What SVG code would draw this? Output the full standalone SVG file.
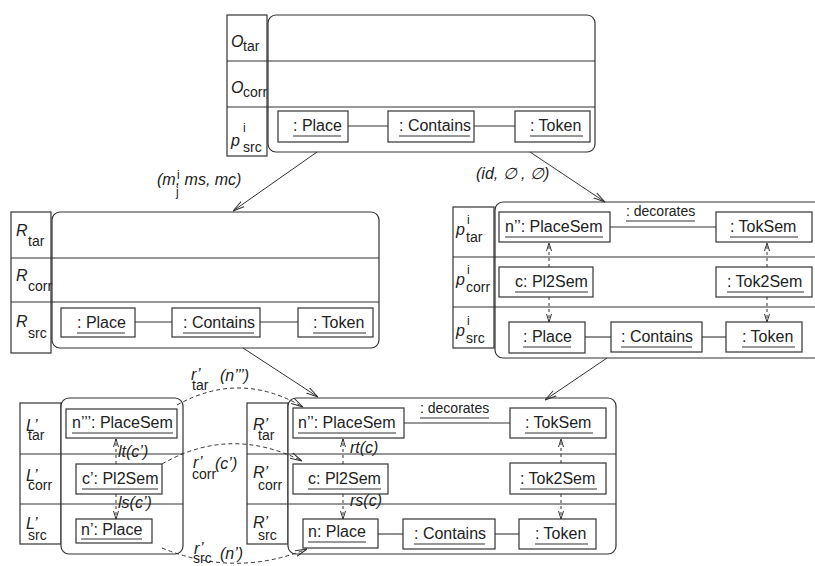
<svg xmlns="http://www.w3.org/2000/svg" width="815" height="566" viewBox="0 0 815 566">
<style>
text{font-family:"Liberation Sans",Arial,sans-serif;fill:#222}
.t{font-size:16px}
.s{font-size:14px}
.xs{font-size:12px}
.i{font-style:italic}
.fr{fill:#fff;stroke:#333;stroke-width:1.2}
.bx{fill:#fff;stroke:#333;stroke-width:1.2}
.ln{stroke:#333;stroke-width:1.1;fill:none}
.ul{stroke:#333;stroke-width:1.1}
.ar{stroke:#333;stroke-width:1;fill:none;marker-end:url(#ah)}
.da{stroke:#333;stroke-width:1;fill:none;stroke-dasharray:4 3;marker-end:url(#ah)}
.dv{stroke:#333;stroke-width:1;fill:none;stroke-dasharray:3 3;marker-end:url(#sh)}
</style>
<defs>
<marker id="ah" viewBox="0 0 12 8" refX="12" refY="4" markerWidth="12" markerHeight="8" markerUnits="userSpaceOnUse" orient="auto"><path d="M0,1 L12,4 L0,7" fill="none" stroke="#333" stroke-width="1"/></marker>
<marker id="sh" viewBox="0 0 8 6" refX="8" refY="3" markerWidth="8" markerHeight="6" markerUnits="userSpaceOnUse" orient="auto"><path d="M0,0.5 L8,3 L0,5.5" fill="none" stroke="#333" stroke-width="1"/></marker>
</defs>
<rect width="815" height="566" fill="#fff"/>

<!-- Top graph O -->
<g id="graphO">
<rect class="fr" x="227" y="15" width="40" height="141"/>
<rect class="fr" x="268" y="15" width="327" height="137" rx="8"/>
<line class="ln" x1="227" y1="61" x2="595" y2="61"/>
<line class="ln" x1="227" y1="107" x2="595" y2="107"/>
<text class="t i" x="231" y="47">O</text><text class="s" x="243" y="51">tar</text>
<text class="t i" x="231" y="93">O</text><text class="s" x="243" y="97">corr</text>
<text class="t i" x="231" y="146">p</text><text class="xs" x="243" y="132">i</text><text class="s" x="243" y="152">src</text>
<g id="O_place"><rect class="bx" x="278" y="111" width="70" height="31"/><text class="t" x="293" y="131">: Place</text><line class="ul" x1="293" y1="136" x2="341" y2="136"/></g>
<g id="O_contains"><rect class="bx" x="388" y="111" width="86" height="31"/><text class="t" x="399" y="131">: Contains</text><line class="ul" x1="399" y1="136" x2="470" y2="136"/></g>
<g id="O_token"><rect class="bx" x="515" y="111" width="75" height="31"/><text class="t" x="530" y="131">: Token</text><line class="ul" x1="530" y1="136" x2="583" y2="136"/></g>
</g>

<!-- Middle-left graph R -->
<g id="graphR">
<rect class="fr" x="11" y="212" width="40" height="141"/>
<rect class="fr" x="52" y="212" width="327" height="136" rx="8"/>
<line class="ln" x1="11" y1="258" x2="379" y2="258"/>
<line class="ln" x1="11" y1="302" x2="379" y2="302"/>
<text class="t i" x="16" y="236">R</text><text class="s" x="28" y="246">tar</text>
<text class="t i" x="16" y="281">R</text><text class="s" x="28" y="291">corr</text>
<text class="t i" x="16" y="327">R</text><text class="s" x="28" y="338">src</text>
<g id="R_place"><rect class="bx" x="61" y="308" width="74" height="29"/><text class="t" x="77" y="328">: Place</text><line class="ul" x1="77" y1="333" x2="125" y2="333"/></g>
<g id="R_contains"><rect class="bx" x="172" y="308" width="88" height="29"/><text class="t" x="183" y="328">: Contains</text><line class="ul" x1="183" y1="333" x2="254" y2="333"/></g>
<g id="R_token"><rect class="bx" x="298" y="308" width="75" height="29"/><text class="t" x="313" y="328">: Token</text><line class="ul" x1="313" y1="333" x2="366" y2="333"/></g>
</g>

<!-- Middle-right graph p^i -->
<g id="graphP">
<rect class="fr" x="453" y="207" width="41" height="141"/>
<rect class="fr" x="495" y="202" width="340" height="156" rx="8"/>
<line class="ln" x1="453" y1="257" x2="815" y2="257"/>
<line class="ln" x1="453" y1="307" x2="815" y2="307"/>
<text class="t i" x="456" y="235">p</text><text class="xs" x="467" y="224">i</text><text class="s" x="466" y="242">tar</text>
<text class="t i" x="456" y="285">p</text><text class="xs" x="467" y="274">i</text><text class="s" x="466" y="292">corr</text>
<text class="t i" x="456" y="336">p</text><text class="xs" x="467" y="325">i</text><text class="s" x="466" y="343">src</text>
<g id="P_placesem"><rect class="bx" x="499" y="212" width="111" height="30"/><text class="t" x="505" y="232">n’’: PlaceSem</text><line class="ul" x1="505" y1="237" x2="603" y2="237"/></g>
<g id="P_toksem"><rect class="bx" x="716" y="212" width="96" height="30"/><text class="t" x="730" y="232">: TokSem</text><line class="ul" x1="730" y1="237" x2="798" y2="237"/></g>
<g id="P_pl2sem"><rect class="bx" x="499" y="267" width="94" height="30"/><text class="t" x="515" y="287">c: Pl2Sem</text><line class="ul" x1="515" y1="292" x2="588" y2="292"/></g>
<g id="P_tok2sem"><rect class="bx" x="716" y="267" width="96" height="30"/><text class="t" x="727" y="287">: Tok2Sem</text><line class="ul" x1="727" y1="292" x2="804" y2="292"/></g>
<g id="P_place"><rect class="bx" x="509" y="322" width="76" height="31"/><text class="t" x="523" y="342">: Place</text><line class="ul" x1="523" y1="347" x2="571" y2="347"/></g>
<g id="P_contains"><rect class="bx" x="611" y="322" width="91" height="30"/><text class="t" x="621" y="342">: Contains</text><line class="ul" x1="621" y1="347" x2="692" y2="347"/></g>
<g id="P_token"><rect class="bx" x="726" y="322" width="76" height="30"/><text class="t" x="742" y="342">: Token</text><line class="ul" x1="742" y1="347" x2="795" y2="347"/></g>
<text class="s" x="626" y="216">: decorates</text><line class="ul" x1="626" y1="221" x2="695" y2="221"/>
</g>

<!-- Bottom-left graph L' -->
<g id="graphL">
<rect class="fr" x="20" y="403" width="41" height="141"/>
<rect class="fr" x="61" y="398" width="122" height="156" rx="8"/>
<line class="ln" x1="20" y1="454" x2="183" y2="454"/>
<line class="ln" x1="20" y1="504" x2="183" y2="504"/>
<text class="t i" x="26" y="431">L’</text><text class="s" x="28" y="440">tar</text>
<text class="t i" x="26" y="481">L’</text><text class="s" x="28" y="490">corr</text>
<text class="t i" x="26" y="529">L’</text><text class="s" x="28" y="540">src</text>
<g id="L_placesem"><rect class="bx" x="66" y="409" width="111" height="29"/><text class="t" x="72" y="428">n’’’: PlaceSem</text><line class="ul" x1="72" y1="433" x2="173" y2="433"/></g>
<g id="L_pl2sem"><rect class="bx" x="76" y="464" width="86" height="30"/><text class="t" x="82" y="484">c’: Pl2Sem</text><line class="ul" x1="82" y1="489" x2="158" y2="489"/></g>
<g id="L_place"><rect class="bx" x="76" y="519" width="76" height="24"/><text class="t" x="81" y="535">n’: Place</text><line class="ul" x1="81" y1="539" x2="142" y2="539"/></g>
</g>

<!-- Bottom-right graph R' -->
<g id="graphRp">
<rect class="fr" x="247" y="403" width="41" height="141"/>
<rect class="fr" x="288" y="398" width="328" height="156" rx="8"/>
<line class="ln" x1="247" y1="454" x2="616" y2="454"/>
<line class="ln" x1="247" y1="504" x2="616" y2="504"/>
<text class="t i" x="253" y="430">R’</text><text class="s" x="258" y="440">tar</text>
<text class="t i" x="253" y="478">R’</text><text class="s" x="258" y="490">corr</text>
<text class="t i" x="253" y="528">R’</text><text class="s" x="258" y="540">src</text>
<g id="Rp_placesem"><rect class="bx" x="293" y="408" width="111" height="30"/><text class="t" x="298" y="428">n’’: PlaceSem</text><line class="ul" x1="298" y1="433" x2="396" y2="433"/></g>
<g id="Rp_toksem"><rect class="bx" x="510" y="408" width="96" height="30"/><text class="t" x="525" y="428">: TokSem</text><line class="ul" x1="525" y1="433" x2="593" y2="433"/></g>
<g id="Rp_pl2sem"><rect class="bx" x="293" y="464" width="95" height="30"/><text class="t" x="308" y="484">c: Pl2Sem</text><line class="ul" x1="308" y1="489" x2="381" y2="489"/></g>
<g id="Rp_tok2sem"><rect class="bx" x="510" y="463" width="96" height="31"/><text class="t" x="520" y="484">: Tok2Sem</text><line class="ul" x1="520" y1="489" x2="597" y2="489"/></g>
<g id="Rp_place"><rect class="bx" x="303" y="519" width="75" height="29"/><text class="t" x="308" y="537">n: Place</text><line class="ul" x1="308" y1="542" x2="366" y2="542"/></g>
<g id="Rp_contains"><rect class="bx" x="403" y="519" width="92" height="30"/><text class="t" x="414" y="539">: Contains</text><line class="ul" x1="414" y1="544" x2="485" y2="544"/></g>
<g id="Rp_token"><rect class="bx" x="519" y="519" width="77" height="30"/><text class="t" x="535" y="539">: Token</text><line class="ul" x1="535" y1="544" x2="588" y2="544"/></g>
<text class="s" x="420" y="413">: decorates</text><line class="ul" x1="420" y1="418" x2="489" y2="418"/>
</g>

<!-- Connectors -->
<g id="connectors">
<line class="ln" x1="348" y1="126" x2="388" y2="126"/>
<line class="ln" x1="474" y1="126" x2="515" y2="126"/>
<line class="ln" x1="135" y1="322" x2="172" y2="322"/>
<line class="ln" x1="260" y1="322" x2="298" y2="322"/>
<line class="ln" x1="610" y1="227" x2="716" y2="227"/>
<line class="ln" x1="585" y1="337" x2="611" y2="337"/>
<line class="ln" x1="702" y1="337" x2="726" y2="337"/>
<line class="ln" x1="404" y1="423" x2="510" y2="423"/>
<line class="ln" x1="378" y1="534" x2="403" y2="534"/>
<line class="ln" x1="495" y1="534" x2="519" y2="534"/>
<path class="dv" d="M549,267 L549,243"/>
<path class="dv" d="M549,297 L549,322"/>
<path class="dv" d="M767,267 L767,243"/>
<path class="dv" d="M767,297 L767,322"/>
<path class="dv" d="M116,464 L116,439"/>
<path class="dv" d="M116,494 L116,519"/>
<path class="dv" d="M343,464 L343,439"/>
<path class="dv" d="M343,494 L343,519"/>
<path class="dv" d="M561,463 L561,439"/>
<path class="dv" d="M561,494 L561,519"/>
<path class="ar" d="M317,152 L233,211"/>
<path class="ar" d="M530,152 L605,202"/>
<path class="ar" d="M243,348 L318,397"/>
<path class="ar" d="M607,358 L545,400"/>
<path class="da" d="M177,405 Q240,370 303,407"/>
<path class="da" d="M162,464 Q230,425 302,461"/>
<path class="da" d="M162,548 Q235,578 307,549"/>
</g>

<g id="labels">
<text class="t i" x="157" y="185">(m, ms, mc)</text>
<text class="xs" x="177" y="179">i</text>
<text class="xs" x="176" y="196">j</text>
<text class="t i" x="476" y="179">(id, ∅ , ∅)</text>
<text class="t i" x="118" y="457">lt(c’)</text>
<text class="t i" x="118" y="508">ls(c’)</text>
<text class="t i" x="350" y="453">rt(c)</text>
<text class="t i" x="350" y="506">rs(c)</text>
<text class="t i" x="191" y="380">r’</text><text class="s" x="192" y="390">tar</text><text class="t i" x="220" y="381">(n’’’)</text>
<text class="t i" x="193" y="468">r’</text><text class="s" x="192" y="479">corr</text><text class="t i" x="215" y="469">(c’)</text>
<text class="t i" x="194" y="554">r’</text><text class="s" x="193" y="563">src</text><text class="t i" x="220" y="559">(n’)</text>
</g>
</svg>
